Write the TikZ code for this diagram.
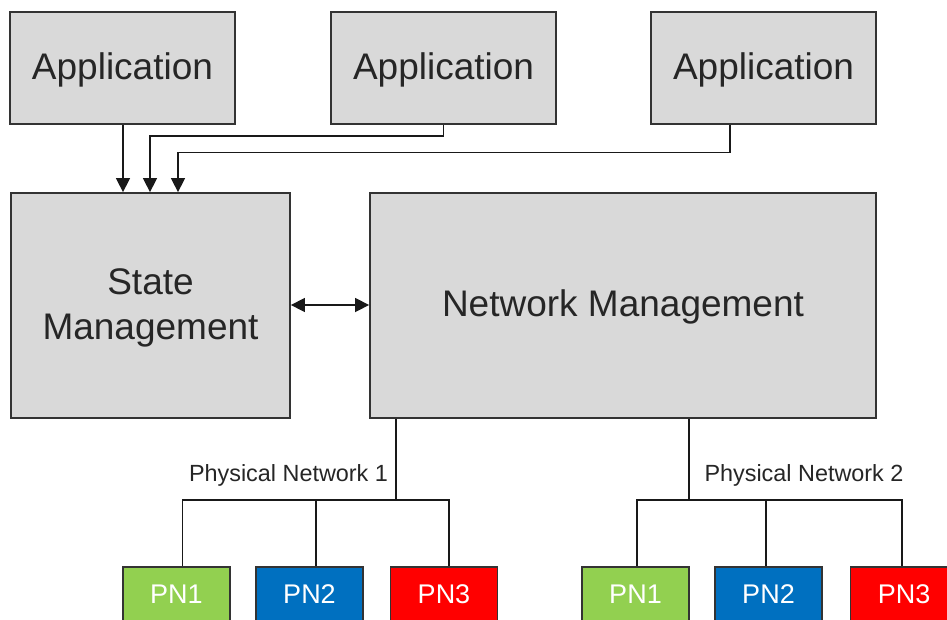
\documentclass[tikz,border=0pt]{standalone}
\usepackage{fontspec}
\setmainfont{Liberation Sans}
\usetikzlibrary{arrows.meta}
\definecolor{boxgray}{HTML}{D9D9D9}
\definecolor{edgegray}{HTML}{333333}
\definecolor{txtgray}{HTML}{262626}
\definecolor{pngreen}{HTML}{92D050}
\definecolor{pnblue}{HTML}{0070C0}
\definecolor{pnred}{HTML}{FF0000}
\begin{document}
\begin{tikzpicture}[x=1pt,y=-1pt,
  graybox/.style={draw=edgegray,line width=1.8pt,fill=boxgray,text=txtgray,
    font=\fontsize{37}{45}\selectfont,align=center,inner sep=0pt},
  oneline/.style={text height=27pt,text depth=4.6pt},
  pnbox/.style={draw=edgegray,line width=1.6pt,text=white,minimum width=107pt,
    minimum height=54pt,font=\fontsize{27}{30}\selectfont,inner sep=0pt},
  conn/.style={draw=black!90,line width=1.5pt},
  arr/.style={conn,-{Triangle[width=14pt,length=14pt]}},
  darr/.style={conn,{Triangle[width=14pt,length=14pt]}-{Triangle[width=14pt,length=14pt]}},
  netlabel/.style={text=txtgray,font=\fontsize{23.4}{26}\selectfont,inner sep=0pt}]
\useasboundingbox (0,0) rectangle (947,619);
\clip (0,0) rectangle (947,619);
\fill[white] (0,0) rectangle (947,619);
% top applications
\node[graybox,oneline,minimum width=225pt,minimum height=112pt] (app1) at (122.5,68) {Application};
\node[graybox,oneline,minimum width=225pt,minimum height=112pt] (app2) at (443.5,68) {Application};
\node[graybox,oneline,minimum width=225pt,minimum height=112pt] (app3) at (763.5,68) {Application};
% middle
\node[graybox,minimum width=279pt,minimum height=225pt] (state) at (150.5,305.5)
  {\rule{0pt}{30.6pt}State\\Management};
\node[graybox,oneline,minimum width=506pt,minimum height=225pt] (net) at (623,305.5) {Network Management};
% arrows from apps
\coordinate (a1) at (123,193);
\coordinate (a2) at (150,193);
\coordinate (a3) at (178,193);
\draw[arr] (app1.south -| a1) -- (state.north -| a1);
\draw[arr] (app2.south -| 443.5,0) |- (150,136) -- (state.north -| a2);
\draw[arr] (app3.south -| 730,0) |- (178,152.5) -- (state.north -| a3);
\draw[darr] (state.east |- 0,305) -- (net.west |- 0,305);
% physical networks
\node[pnbox,fill=pngreen] (pn1a) at (176.5,594) {PN1};
\node[pnbox,fill=pnblue]  (pn2a) at (309.5,594) {PN2};
\node[pnbox,fill=pnred]   (pn3a) at (444,594)   {PN3};
\node[pnbox,fill=pngreen] (pn1b) at (635.5,594) {PN1};
\node[pnbox,fill=pnblue]  (pn2b) at (768.5,594) {PN2};
\node[pnbox,fill=pnred]   (pn3b) at (904,594)   {PN3};
\coordinate (j1) at (396,500);
\coordinate (j2) at (689,500);
\draw[conn] (net.south -| j1) -- (j1);
\draw[conn] ([xshift=6pt]pn1a.north) |- (j1) -| ([xshift=5pt]pn3a.north);
\draw[conn] ([xshift=6.5pt]pn2a.north) -- ([xshift=6.5pt]pn2a.north |- j1);
\draw[conn] (net.south -| j2) -- (j2);
\draw[conn] ([xshift=1.5pt]pn1b.north) |- (j2) -| ([xshift=-2pt]pn3b.north);
\draw[conn] ([xshift=-2.5pt]pn2b.north) -- ([xshift=-2.5pt]pn2b.north |- j2);
\node[netlabel,anchor=base] (lab1) at (288.5,481.5) {Physical Network 1};
\node[netlabel,anchor=base] (lab2) at (804,481.5) {Physical Network 2};
\end{tikzpicture}
\end{document}
